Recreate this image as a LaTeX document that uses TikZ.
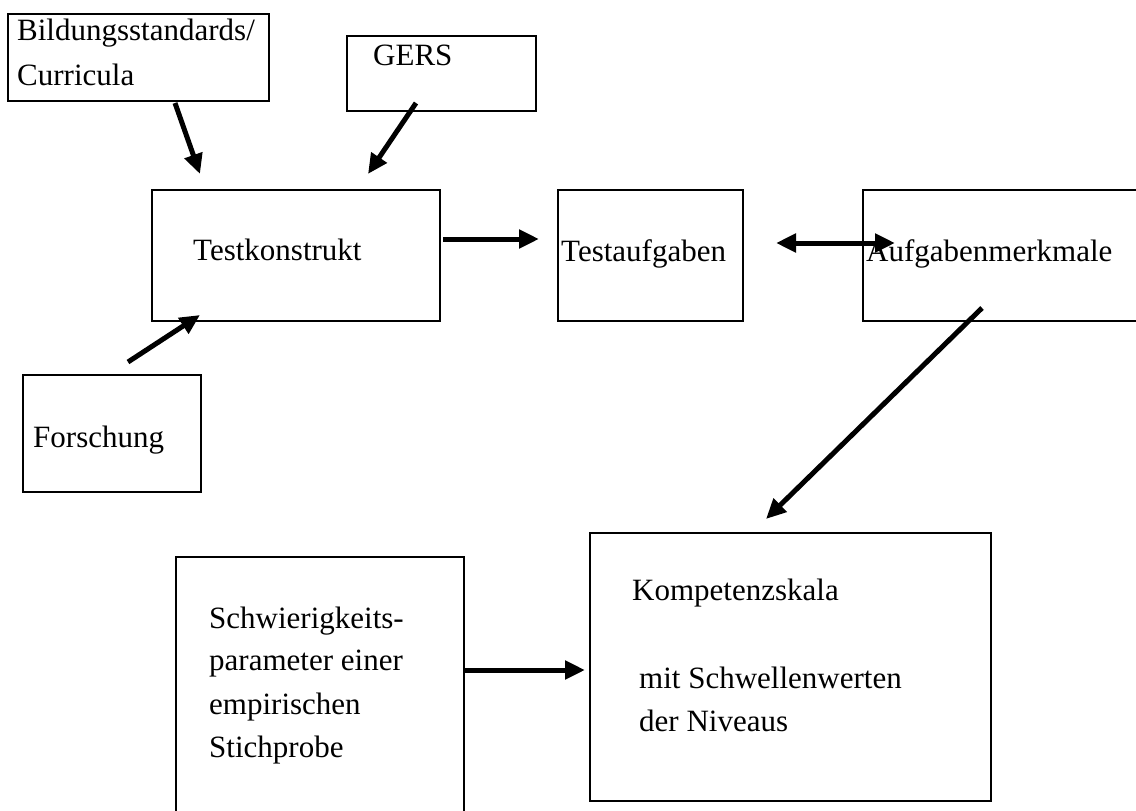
\documentclass[tikz,border=0pt]{standalone}
\usepackage{fontspec}
\setmainfont{Liberation Serif}
\usetikzlibrary{arrows.meta}
\tikzset{
  box/.style={draw=black,line width=2pt,inner sep=0pt,outer sep=0pt},
  txt/.style={anchor=base west,inner sep=0pt,font=\fontsize{31}{43}\selectfont},
  arr/.style={line width=5pt,-{Triangle[length=20pt,width=18pt]}},
  dblarr/.style={line width=5pt,{Triangle[length=20pt,width=18pt]}-{Triangle[length=20pt,width=18pt]}},
}

\begin{document}
\begin{tikzpicture}[x=1pt,y=-1pt]
    \useasboundingbox (0,0) rectangle (1136,811);
    % boxes
    \node[box,minimum width=261pt,minimum height=87pt] (bs) at (138.5,57.5) {};
    \node[box,minimum width=189pt,minimum height=75pt] (gers) at (441.5,73.5) {};
    \node[box,minimum width=288pt,minimum height=131pt] (tk) at (296,255.5) {};
    \node[box,minimum width=185pt,minimum height=131pt] (ta) at (650.5,255.5) {};
    \node[box,minimum width=297pt,minimum height=131pt] (am) at (1011.5,255.5) {};
    \node[box,minimum width=178pt,minimum height=117pt] (fo) at (112,433.5) {};
    \node[box,minimum width=288pt,minimum height=283pt] (sp) at (320,698.5) {};
    \node[box,minimum width=401pt,minimum height=268pt] (ks) at (790.5,667) {};
    % box texts
    \node[txt] (bs1) at (17,40) {Bildungsstandards/};
    \node[txt] (bs2) at (17,85) {Curricula};
    \node[txt] (gerst) at (373,65) {GERS};
    \node[txt] (tkt) at (193,260) {Testkonstrukt};
    \node[txt] (tat) at (561,261) {Testaufgaben};
    \node[txt] (amt) at (866,261) {Aufgabenmerkmale};
    \node[txt] (fot) at (33,447) {Forschung};
    \node[txt] (sp1) at (209,628) {Schwierigkeits-};
    \node[txt] (sp2) at (209,670) {parameter einer};
    \node[txt] (sp3) at (209,714) {empirischen};
    \node[txt] (sp4) at (209,757) {Stichprobe};
    \node[txt] (ks1) at (632,600) {Kompetenzskala};
    \node[txt] (ks2) at (639,688) {mit Schwellenwerten};
    \node[txt] (ks3) at (639,731) {der Niveaus};
    % arrow ends
    \coordinate (bsout) at (175,103);
    \coordinate (tkin1) at (200,174);
    \coordinate (gersout) at (416,103);
    \coordinate (tkin2) at (368,174);
    \coordinate (foout) at (128,362);
    \coordinate (tkin3) at (200,315);
    \coordinate (tkout) at (443,239);
    \coordinate (tain) at (539,239);
    \coordinate (taend) at (776,243);
    \coordinate (amend) at (895,243);
    \coordinate (amout) at (982,308);
    \coordinate (ksin1) at (766,519);
    \coordinate (spout) at (465,670);
    \coordinate (ksin2) at (585,670);
    % arrows
    \draw[arr] (bsout) -- (tkin1);
    \draw[arr] (gersout) -- (tkin2);
    \draw[arr] (foout) -- (tkin3);
    \draw[arr] (tkout) -- (tain);
    \draw[dblarr] (taend) -- (amend);
    \draw[arr] (amout) -- (ksin1);
    \draw[arr] (spout) -- (ksin2);
\end{tikzpicture}
\end{document}
